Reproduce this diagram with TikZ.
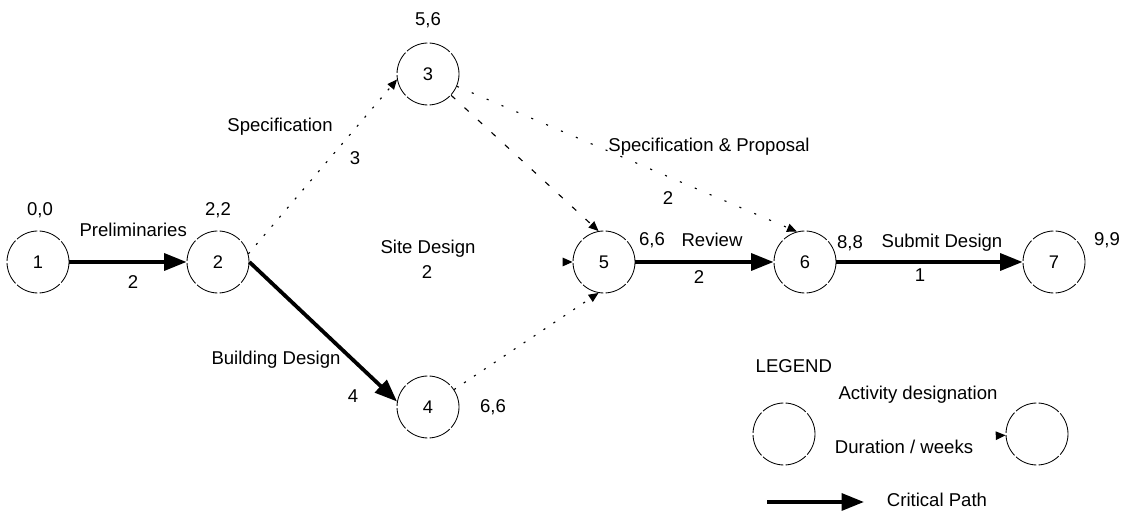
\documentclass[tikz,border=0pt]{standalone}
\usepackage{fontspec}
\setmainfont{Liberation Sans}
\usetikzlibrary{arrows.meta,positioning}

\begin{document}
\begin{tikzpicture}[
  >=Triangle,
  event/.style={circle, draw=black, line width=0.6pt, dash pattern=on 16pt off 1.5pt, minimum size=1.55cm, inner sep=0pt, font=\fontsize{13}{15}\selectfont},
  lbl/.style={font=\fontsize{13.2}{16}\selectfont, inner sep=1pt},
  crit/.style={-{Triangle[length=16pt,width=12pt]}, line width=2.7pt},
  dummy/.style={-{Triangle[length=7pt,width=6pt]}, line width=0.8pt, dash pattern=on 1.5pt off 7pt},
  dashy/.style={-{Triangle[length=7pt,width=6pt]}, line width=0.8pt, dash pattern=on 4pt off 9pt},
  faint/.style={-{Triangle[length=7pt,width=6pt]}, line width=0.8pt, dash pattern=on 0pt off 200pt}
]
  \useasboundingbox (0,0) rectangle (28.25,12.8);

  % Events
  \node[event] (n1) at (0.95, 6.25) {1};
  \node[event] (n2) at (5.45, 6.25) {2};
  \node[event] (n3) at (10.7, 10.95) {3};
  \node[event] (n4) at (10.7, 2.625) {4};
  \node[event] (n5) at (15.1, 6.25) {5};
  \node[event] (n6) at (20.125, 6.25) {6};
  \node[event] (n7) at (26.35, 6.25) {7};

  % Early / late times
  \node[lbl] (t1) at (1.0, 7.55) {0,0};
  \node[lbl] (t2) at (5.45, 7.55) {2,2};
  \node[lbl] (t3) at (10.7, 12.3) {5,6};
  \node[lbl] (t4) at (12.325, 2.625) {6,6};
  \node[lbl] (t5) at (16.3, 6.8) {6,6};
  \node[lbl] (t6) at (21.25, 6.725) {8,8};
  \node[lbl] (t7) at (27.675, 6.8) {9,9};

  % Activities
  \draw[crit] (n1) -- (n2);
  \draw[dummy] (n2.15) -- (n3.190);
  \draw[faint] (n2) -- (n5);
  \draw[crit] (n2.east) -- (n4.170);
  \draw[dashy] (n3) -- (n5.100);
  \draw[dummy, dash pattern=on 1.5pt off 10pt] (n3) -- (n6.105);
  \draw[dummy] (n4) -- (n5.260);
  \draw[crit] (n5) -- (n6);
  \draw[crit] (n6) -- (n7);

  % Activity names and durations
  \node[lbl] (a12) at (3.33, 7.05) {Preliminaries};
  \node[lbl] (d12) at (3.325, 5.75) {2};
  \node[lbl] (a23) at (7.0, 9.625) {Specification};
  \node[lbl] (d23) at (8.875, 8.85) {3};
  \node[lbl] (a25) at (10.7, 6.575) {Site Design};
  \node[lbl] (d25) at (10.675, 6.0) {2};
  \node[lbl] (a24) at (6.9, 3.8) {Building Design};
  \node[lbl] (d24) at (8.825, 2.9) {4};
  \node[lbl] (a36) at (17.725, 9.125) {Specification \& Proposal};
  \node[lbl] (d36) at (16.7, 7.85) {2};
  \node[lbl] (a56) at (17.8, 6.8) {Review};
  \node[lbl] (d56) at (17.475, 5.875) {2};
  \node[lbl] (a67) at (23.55, 6.725) {Submit Design};
  \node[lbl] (d67) at (23.0, 5.925) {1};

  % Legend
  \node[lbl, anchor=west] (leg) at (18.85, 3.65) {LEGEND};
  \node[event] (legL) at (19.6, 1.95) {};
  \node[event] (legR) at (25.925, 1.95) {};
  \node[lbl] (legact) at (22.95, 2.925) {Activity designation};
  \node[lbl] (legdur) at (22.6, 1.625) {Duration / weeks};
  \coordinate (legtail) at (24.7, 1.9);
  \draw[faint] (legtail) -- (legR);
  \coordinate (cpA) at (19.175, 0.25);
  \coordinate (cpB) at (21.6, 0.25);
  \draw[crit] (cpA) -- (cpB);
  \node[lbl] (legcp) at (23.425, 0.3) {Critical Path};

\end{tikzpicture}
\end{document}
